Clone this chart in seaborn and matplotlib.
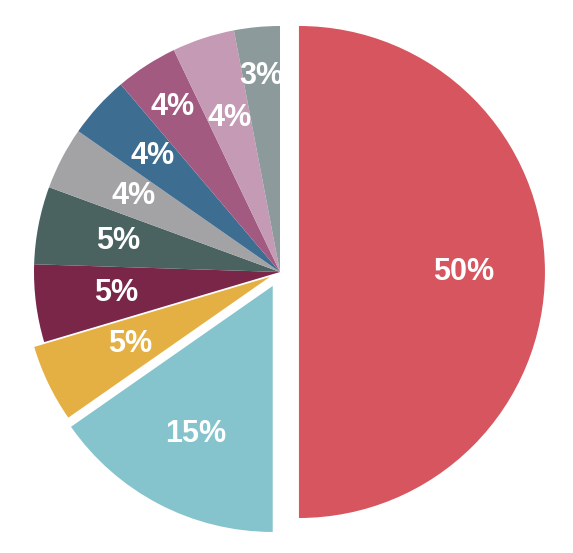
import numpy as np
import matplotlib
matplotlib.use("Agg")
import matplotlib.pyplot as plt
import seaborn as sns

# slice values (percent), clockwise from 12 o'clock
values = [50, 15.3, 5.1, 5.1, 5.1, 4.1, 4.1, 4.1, 4.1, 3.0]
labels = ["50%", "15%", "5%", "5%", "5%", "4%", "4%", "4%", "4%", "3%"]
colors = ["#D6555E", "#85C4CC", "#E5B043", "#7A2648", "#4B6360",
          "#A3A3A5", "#3E6D92", "#A25A80", "#C49AB5", "#8C9A9B"]
explode = [0.077, 0.064, 0.045, 0, 0, 0, 0, 0, 0, 0]
label_dist = [0.67, 0.68, 0.63, 0.67, 0.67, 0.67, 0.70, 0.80, 0.66, 0.80]

sns.set_theme(style="white")
plt.rcParams['font.family'] = ['Liberation Sans', 'DejaVu Sans']

fig = plt.figure(figsize=(5.73, 5.53), dpi=100)
ax = fig.add_axes([0, 0, 1, 1])

wedges, _ = ax.pie(values, colors=colors, explode=explode, startangle=90,
                   counterclock=False, radius=1.0,
                   wedgeprops=dict(linewidth=0))

# labels placed along each wedge's bisector
for w, lab, d in zip(wedges, labels, label_dist):
    ang = np.deg2rad((w.theta1 + w.theta2) / 2)
    cx, cy = w.center
    ax.text(cx + d * np.cos(ang), cy + d * np.sin(ang), lab,
            ha="center", va="center", color="white",
            fontsize=22, fontweight="bold")

# place the pie: centre at (280, 272) px, radius 246 px
r = 246
ax.set_xlim(-280 / r, (573 - 280) / r)
ax.set_ylim(-(553 - 272) / r, 272 / r)
ax.set_aspect("equal")
ax.axis("off")

fig.savefig("out.png", dpi=100, facecolor="white")
